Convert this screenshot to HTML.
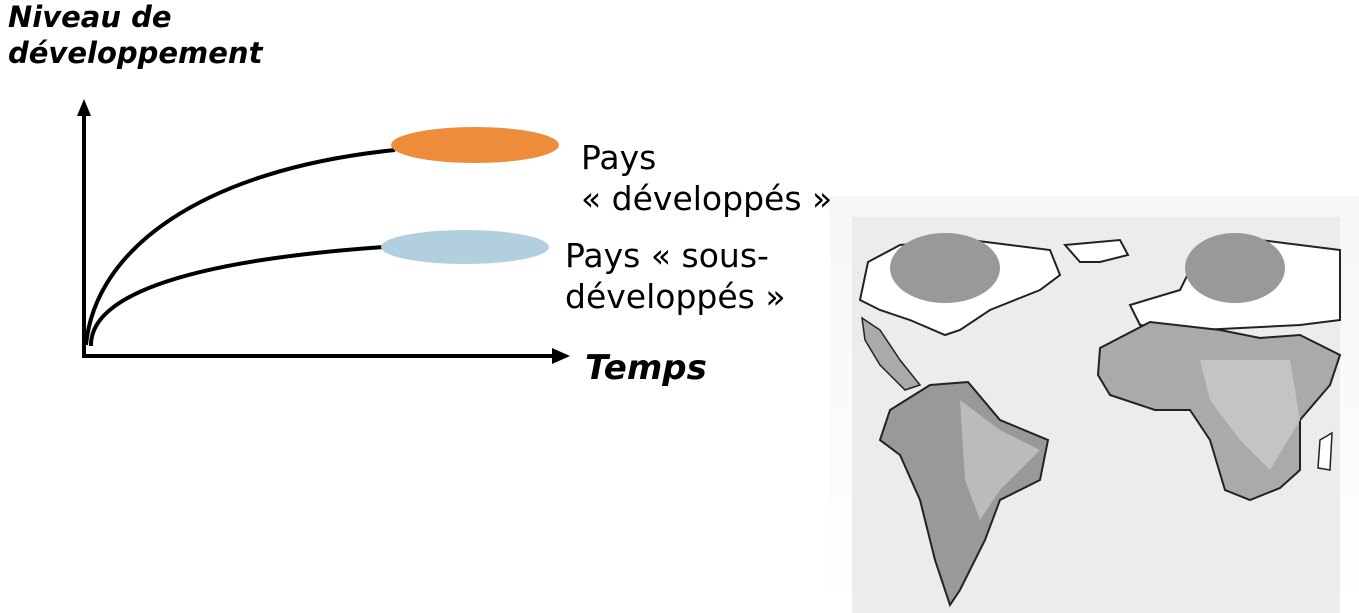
<!DOCTYPE html>
<html><head><meta charset="utf-8"><style>
body{margin:0;width:1359px;height:613px;background:#fff;overflow:hidden;position:relative;font-family:"DejaVu Sans","Liberation Sans",sans-serif}
.t{position:absolute;white-space:nowrap;color:#000}
.b{font-weight:bold;font-style:italic;font-size:29px}
.n{font-size:33px}
</style></head><body>
<div class="t b" style="left:8px;top:-1px;line-height:36px">Niveau de<br>développement</div>
<div class="t n" style="left:581px;top:137px;line-height:41px">Pays<br>« développés »</div>
<div class="t n" style="left:565px;top:235px;line-height:41px">Pays « sous-<br>développés »</div>
<div class="t b" style="left:585px;top:348px;font-size:34px">Temps</div>
<svg width="1359" height="613" style="position:absolute;left:0;top:0">
<defs><linearGradient id="sh" x1="0" y1="0" x2="0" y2="1"><stop offset="0" stop-color="#f6f6f6"/><stop offset="1" stop-color="#fff"/></linearGradient></defs>
<line x1="84" y1="112" x2="84" y2="358" stroke="#000" stroke-width="4"/>
<polygon points="77,116 91,116 84,99" fill="#000"/>
<line x1="82" y1="356" x2="556" y2="356" stroke="#000" stroke-width="4"/>
<polygon points="552,348 552,364 570,356" fill="#000"/>
<path d="M86,345 C95,250 200,170 395,150" fill="none" stroke="#000" stroke-width="4"/>
<path d="M91,346 C90,300 170,262 384,247" fill="none" stroke="#000" stroke-width="4"/>
<ellipse cx="475" cy="145" rx="84" ry="18" fill="#ed8d3c"/>
<ellipse cx="465" cy="247" rx="84" ry="17" fill="#b2cfe0"/>
<rect x="830" y="196" width="529" height="417" fill="url(#sh)"/>
<rect x="852" y="217" width="488" height="396" fill="#ececec"/>
<path d="M868,262 L900,245 L970,240 L1050,250 L1060,275 L1040,290 L990,310 L960,330 L945,335 L910,320 L880,310 L860,300 Z" fill="#fff" stroke="#222" stroke-width="2"/>
<ellipse cx="945" cy="268" rx="55" ry="35" fill="#999"/>
<path d="M1065,245 L1120,240 L1128,255 L1100,262 L1080,262 Z" fill="#fff" stroke="#222" stroke-width="2"/>
<path d="M862,318 L880,330 L900,360 L920,385 L905,390 L880,365 L865,340 Z" fill="#aaa" stroke="#222" stroke-width="1.5"/>
<path d="M930,385 L968,382 L1000,420 L1048,440 L1040,480 L1000,500 L985,540 L960,590 L950,605 L935,560 L920,500 L900,455 L880,440 L890,410 Z" fill="#999" stroke="#222" stroke-width="2"/>
<path d="M960,400 L1000,430 L1040,450 L1000,490 L980,520 L965,480 Z" fill="#bbb"/>
<path d="M1130,305 L1180,290 L1200,250 L1260,240 L1340,250 L1340,320 L1300,325 L1200,330 L1140,325 Z" fill="#fff" stroke="#222" stroke-width="2"/>
<ellipse cx="1235" cy="268" rx="50" ry="35" fill="#999"/>
<path d="M1100,348 L1150,322 L1220,330 L1260,338 L1300,335 L1340,355 L1330,385 L1300,420 L1300,470 L1280,488 L1250,500 L1225,490 L1210,440 L1190,410 L1155,410 L1110,395 L1098,375 Z" fill="#aaa" stroke="#222" stroke-width="2"/>
<path d="M1200,360 L1290,360 L1300,420 L1270,470 L1240,440 L1210,400 Z" fill="#c4c4c4"/>
<path d="M1320,440 L1332,433 L1330,470 L1318,468 Z" fill="#fff" stroke="#222" stroke-width="1.5"/>
</svg>
</body></html>
